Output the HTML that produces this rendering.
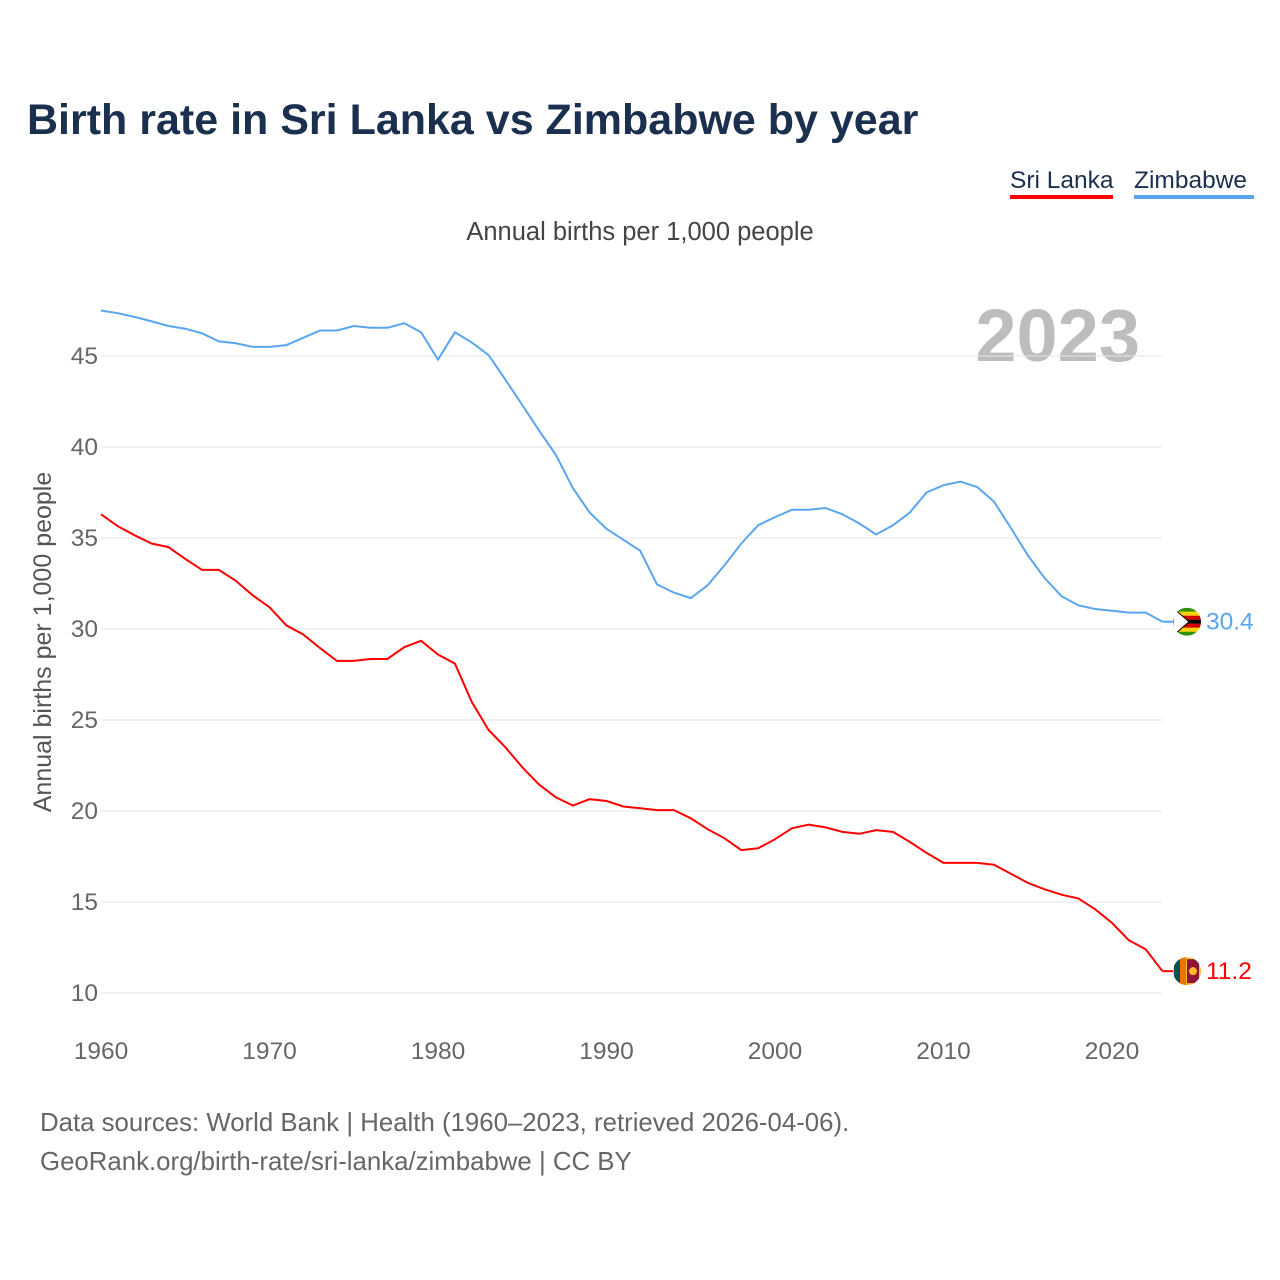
<!DOCTYPE html>
<html><head><meta charset="utf-8"><style>
body{margin:0;background:#fff;font-family:"Liberation Sans",sans-serif;}
#wrap{position:relative;width:1280px;height:1280px;overflow:hidden;}
</style></head><body>
<div id="wrap">
<svg id="chart" width="1280" height="1280">
<text x="27" y="134" font-size="43" font-weight="bold" fill="#1b2f4e">Birth rate in Sri Lanka vs Zimbabwe by year</text>
<g><text x="1010" y="188" font-size="24.5" fill="#1b2f4e">Sri Lanka</text><rect x="1010" y="195" width="103" height="4" fill="#ff0000"/></g>
<g><text x="1134" y="188" font-size="24.5" fill="#1b2f4e">Zimbabwe</text><rect x="1134" y="195" width="120" height="4" fill="#5aa6ee"/></g>
<text x="640" y="240" font-size="25.5" fill="#444" text-anchor="middle">Annual births per 1,000 people</text>
<text x="1140" y="361" font-size="74" font-weight="bold" fill="#bdbdbd" text-anchor="end">2023</text>
<text transform="translate(51,642) rotate(-90)" font-size="25" fill="#555" text-anchor="middle">Annual births per 1,000 people</text>
<g id="grid"></g><g id="lines"></g><g id="ends"></g>
<text x="40" y="1131" font-size="25.8" fill="#666">Data sources: World Bank | Health (1960–2023, retrieved 2026-04-06).</text>
<text x="40" y="1170" font-size="25.8" fill="#666">GeoRank.org/birth-rate/sri-lanka/zimbabwe | CC BY</text>
</svg></div>
<script>
const years=[];for(let y=1960;y<=2023;y++)years.push(y);
const zimbabwe=[47.5,47.35,47.15,46.9,46.65,46.5,46.25,45.8,45.7,45.5,45.5,45.6,46.0,46.4,46.4,46.65,46.55,46.55,46.8,46.3,44.8,46.3,45.75,45.05,43.7,42.3,40.9,39.55,37.75,36.4,35.5,34.9,34.3,32.45,32.0,31.7,32.4,33.5,34.7,35.7,36.15,36.55,36.55,36.65,36.3,35.8,35.2,35.7,36.4,37.5,37.9,38.1,37.8,37.0,35.55,34.05,32.8,31.8,31.3,31.1,31.0,30.9,30.9,30.4];
const sriLanka=[36.3,35.65,35.15,34.7,34.5,33.85,33.25,33.25,32.65,31.85,31.2,30.2,29.7,28.95,28.25,28.25,28.35,28.35,29.0,29.35,28.6,28.1,26.0,24.45,23.5,22.4,21.45,20.75,20.3,20.65,20.55,20.25,20.15,20.05,20.05,19.6,19.0,18.5,17.85,17.95,18.45,19.05,19.25,19.1,18.85,18.75,18.95,18.85,18.3,17.7,17.15,17.15,17.15,17.05,16.55,16.05,15.7,15.4,15.2,14.6,13.85,12.9,12.4,11.2];
const yTicks=[10,15,20,25,30,35,40,45];
const xTicks=[1960,1970,1980,1990,2000,2010,2020];
const NS='http://www.w3.org/2000/svg';
const X=y=>101+(y-1960)*(1112-101)/60;
const Y=v=>993-(v-10)*18.2;
function mk(t,a,p){const e=document.createElementNS(NS,t);for(const k in a)e.setAttribute(k,a[k]);p.appendChild(e);return e;}
const grid=document.getElementById('grid');
yTicks.forEach(v=>{
 const l=mk('line',{x1:101,x2:1162,y1:Y(v),y2:Y(v),stroke:'#e6e6e6','stroke-width':1},grid);
 
 
 const t=mk('text',{x:98,y:Y(v)+8,'font-size':24.5,fill:'#666','text-anchor':'end'},grid);t.textContent=v;
 
 
});
xTicks.forEach(v=>{
 const t=mk('text',{x:X(v),y:1059,'font-size':24.5,fill:'#666','text-anchor':'middle'},grid);t.textContent=v;
 
 
});
const lines=document.getElementById('lines');
function line(data,color,name){
 const d=data.map((v,i)=>(i?'L':'M')+X(years[i]).toFixed(1)+','+Y(v).toFixed(1)).join('');
 const p=mk('path',{d:d,fill:'none',stroke:color,'stroke-width':2},lines);
 
 
}
line(zimbabwe,'#5aa6ee','zimbabwe-line');
line(sriLanka,'#ff0000','sri-lanka-line');
const ends=document.getElementById('ends');
function end(data,color,name,flag){
 const v=data[data.length-1],cy=Y(v),cx=1187;
 const g=mk('g',{},ends);
 
 
 mk('line',{x1:X(2023),x2:cx-14,y1:cy,y2:cy,stroke:color,'stroke-width':2},g);
 const cp=mk('clipPath',{id:'c'+name},g);mk('circle',{cx:cx,cy:cy,r:14},cp);
 const fg=mk('g',{'clip-path':'url(#c'+name+')'},g);
 flag(fg,cx,cy);
 const t=mk('text',{x:1206,y:cy+8,'font-size':24.5,fill:color},g);t.textContent=v.toFixed(1);
 
 
}
end(zimbabwe,'#5aa6ee','zimbabwe',(g,cx,cy)=>{
 const c=['#319208','#ffd200','#d40000','#000','#d40000','#ffd200','#319208'];
 c.forEach((col,i)=>mk('rect',{x:cx-14,y:cy-14+i*4,width:28,height:4.1,fill:col},g));
 mk('polygon',{points:`${cx-14},${cy-14} ${cx+2},${cy} ${cx-14},${cy+14}`,fill:'#fff',stroke:'#000','stroke-width':1},g);
});
end(sriLanka,'#ff0000','sri-lanka',(g,cx,cy)=>{
 mk('rect',{x:cx-14,y:cy-14,width:28,height:28,fill:'#ffbe29'},g);
 mk('rect',{x:cx-13,y:cy-14,width:6,height:28,fill:'#00534e'},g);
 mk('rect',{x:cx-7,y:cy-14,width:6,height:28,fill:'#eb7400'},g);
 mk('rect',{x:cx,y:cy-12,width:12,height:24,fill:'#8d153a'},g);
 mk('circle',{cx:cx+6,cy:cy,r:4,fill:'#ffbe29'},g);
});
</script>
</body></html>
